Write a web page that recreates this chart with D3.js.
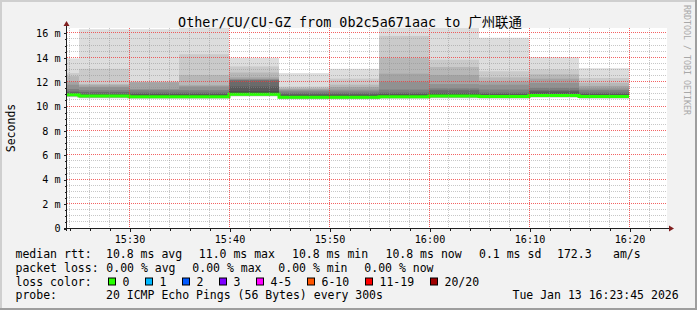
<!DOCTYPE html>
<html>
<head>
<meta charset="utf-8">
<script src="https://cdn.jsdelivr.net/npm/d3@7"></script>
<style>
html, body { margin: 0; padding: 0; background: #f2f2f2; }
svg { display: block; }
text { font-family: "DejaVu Sans Mono", "Noto Sans CJK SC", monospace; fill: #000; }
</style>
</head>
<body>
<svg width="697" height="310"></svg>
<script>
"use strict"

// end time of each 5 minute step
var times = ["15:25", "15:30", "15:35", "15:40", "15:45", "15:50",
             "15:55", "16:00", "16:05", "16:10", "16:15", "16:20"];

// 20 sorted ping rtts per step, ms
var pings = [
	[10.72,10.76,10.79,10.81,10.83,10.85,10.87,10.88,10.89,10.91, 10.95,11.0,11.1,11.2,11.4,11.75,12.0,12.45,12.7,13.9],
	[10.62,10.66,10.69,10.71,10.73,10.75,10.77,10.78,10.79,10.80, 10.85,10.9,11.0,11.15,11.3,11.55,11.7,11.8,13.05,16.3],
	[10.58,10.62,10.65,10.67,10.69,10.71,10.72,10.73,10.74,10.75, 10.8,10.9,11.0,11.1,11.3,11.4,11.95,11.98,12.0,16.3],
	[10.58,10.62,10.65,10.67,10.69,10.71,10.72,10.73,10.74,10.75, 10.8,10.9,11.0,11.1,11.3,11.6,11.7,12.55,14.25,16.6],
	[10.78,10.82,10.85,10.87,10.89,10.91,10.92,10.93,10.94,10.95, 11.02,11.2,11.6,12.1,12.15,12.2,12.35,12.75,13.25,13.95],
	[10.54,10.58,10.61,10.63,10.65,10.66,10.67,10.68,10.69,10.70, 10.75,10.85,10.95,11.05,11.2,11.3,11.4,11.5,11.6,12.7],
	[10.54,10.58,10.61,10.63,10.65,10.66,10.67,10.68,10.69,10.70, 10.75,10.85,10.95,11.05,11.2,11.35,11.55,11.75,12.25,13.05],
	[10.58,10.62,10.65,10.67,10.69,10.71,10.72,10.73,10.74,10.75, 10.8,10.9,11.0,11.1,11.35,12.0,12.65,13.95,15.75,16.6],
	[10.62,10.66,10.69,10.71,10.73,10.75,10.77,10.78,10.79,10.80, 10.85,10.95,11.05,11.3,11.45,11.8,12.55,13.2,13.8,16.6],
	[10.59,10.63,10.66,10.68,10.70,10.72,10.73,10.74,10.75,10.76, 10.8,10.9,11.0,11.1,11.35,11.75,12.0,12.35,12.85,15.6],
	[10.68,10.72,10.75,10.77,10.79,10.81,10.82,10.83,10.84,10.85, 10.9,11.0,11.2,11.3,11.5,11.9,12.25,12.6,13.0,14.0],
	[10.59,10.63,10.66,10.68,10.70,10.72,10.73,10.74,10.75,10.76, 10.8,10.9,11.0,11.1,11.3,11.45,11.65,11.9,12.3,13.1]
];

var medians = [10.93, 10.82, 10.77, 10.77, 10.97, 10.72, 10.72, 10.77, 10.82, 10.78, 10.87, 10.78];
var losses  = [0, 0, 0, 0, 0, 0, 0, 0, 0, 0, 0, 0];

var yTicks = [0, 2, 4, 6, 8, 10, 12, 14, 16];

var lossLabels = ["0", "1", "2", "3", "4-5", "6-10", "11-19", "20/20"];
var lossColors = ["#26ff00", "#00b8ff", "#0059ff", "#7e00ff", "#ff00ff", "#ff5500", "#ff0000", "#a00000"];

var rttStats  = ["10.8 ms avg", "11.0 ms max", "10.8 ms min", "10.8 ms now", "0.1 ms sd", "172.3", "am/s"];
var lossStats = ["0.00 % avg", "0.00 % max", "0.00 % min", "0.00 % now"];

var title = "Other/CU/CU-GZ from 0b2c5a671aac to 广州联通";
var probe = "20 ICMP Echo Pings (56 Bytes) every 300s";
var stamp = "Tue Jan 13 16:23:45 2026";

function hm(s) {
	var p = s.split(":");
	return new Date(2026, 0, 13, +p[0], +p[1], 0);
}

var svg = d3.select("svg");
var W = 697, H = 310;

var x = d3.scaleTime()
	.domain([new Date(2026, 0, 13, 15, 23, 45), new Date(2026, 0, 13, 16, 23, 45)])
	.range([66.5, 666.5]);
var y = d3.scaleLinear().domain([0, 16.4]).range([228, 28]);

function px(v) { return Math.floor(v) + 0.5; }

// frame
svg.append("rect").attr("width", W).attr("height", H).attr("fill", "#f2f2f2");
svg.append("path").attr("d", "M0,0H" + W + "V2H2V" + H + "H0Z").attr("fill", "#cfcfcf");
svg.append("path").attr("d", "M" + W + ",0V" + H + "H0V" + (H - 2) + "H" + (W - 2) + "V0Z").attr("fill", "#9e9e9e");

// canvas
svg.append("rect")
	.attr("x", 67).attr("y", y.range()[1])
	.attr("width", 600).attr("height", y.range()[0] - y.range()[1])
	.attr("fill", "#fff");

svg.append("clipPath").attr("id", "plot")
	.append("rect")
	.attr("x", 67).attr("y", y.range()[1])
	.attr("width", 600).attr("height", y.range()[0] - y.range()[1]);

var plot = svg.append("g").attr("clip-path", "url(#plot)");

// smoke: pair i spans ping[i-1]..ping[20-i], inner pairs darker
var cols = times.map(function(t, c) {
	var end = hm(t);
	return { start: d3.timeMinute.offset(end, -5), end: end, p: pings[c], med: medians[c], loss: losses[c] };
});
var half = 10;
var bands = [];
cols.forEach(function(d) {
	for (var i = 1; i <= half; i++) {
		var g = Math.floor(190 / half * (half - i)) + 50;
		bands.push({ d: d, lo: d.p[i - 1], hi: d.p[20 - i], color: d3.rgb(g, g, g) });
	}
});
plot.append("g").selectAll("rect")
	.data(bands)
	.enter()
	.append("rect")
	.attr("x", function(b) { return Math.round(x(b.d.start)); })
	.attr("width", function(b) { return Math.round(x(b.d.end)) - Math.round(x(b.d.start)); })
	.attr("y", function(b) { return y(b.hi); })
	.attr("height", function(b) { return y(b.lo) - y(b.hi); })
	.attr("fill", function(b) { return b.color; });

// median, coloured by loss
var steps = [];
cols.forEach(function(d) {
	steps.push([x(d.start), y(d.med)]);
	steps.push([x(d.end), y(d.med)]);
});
plot.append("path")
	.attr("d", d3.line()(steps))
	.attr("fill", "none")
	.attr("stroke", lossColors[0])
	.attr("stroke-width", 3);

// grid on top
var grid = svg.append("g").attr("shape-rendering", "crispEdges").attr("stroke-dasharray", "1,1");
var t0 = x.domain()[0], t1 = x.domain()[1];
var minorT = d3.timeMinute.every(2).range(t0, t1).filter(function(t) { return t.getMinutes() % 10 != 0; });
var majorT = d3.timeMinute.every(10).range(t0, t1);
var minorY = d3.range(0.5, 16.4, 0.5).filter(function(v) { return v % 2 != 0; });
var majorY = yTicks.filter(function(v) { return v > 0; });
var gridColor = "rgba(143,143,143,0.5)", mgridColor = "rgba(240,60,60,0.8)";

grid.selectAll(".mx").data(minorT).enter().append("line")
	.attr("x1", function(t) { return px(x(t)); }).attr("x2", function(t) { return px(x(t)); })
	.attr("y1", y.range()[1]).attr("y2", y.range()[0])
	.attr("stroke", gridColor);
grid.selectAll(".my").data(minorY).enter().append("line")
	.attr("y1", function(v) { return px(y(v)); }).attr("y2", function(v) { return px(y(v)); })
	.attr("x1", 67).attr("x2", 667)
	.attr("stroke", gridColor);
grid.selectAll(".Mx").data(majorT).enter().append("line")
	.attr("x1", function(t) { return px(x(t)); }).attr("x2", function(t) { return px(x(t)); })
	.attr("y1", y.range()[1]).attr("y2", y.range()[0])
	.attr("stroke", mgridColor);
grid.selectAll(".My").data(majorY).enter().append("line")
	.attr("y1", function(v) { return px(y(v)); }).attr("y2", function(v) { return px(y(v)); })
	.attr("x1", 67).attr("x2", 667)
	.attr("stroke", mgridColor);

// axes
var yAxis = d3.axisLeft(y)
	.tickValues(yTicks)
	.tickSize(3)
	.tickPadding(3)
	.tickFormat(function(v) { return v === 0 ? "0" : v + " m"; });
var ya = svg.append("g").attr("transform", "translate(66.5,0.5)").call(yAxis);
ya.select(".domain").remove();
ya.selectAll("line").attr("stroke", "#1f1f1f").attr("shape-rendering", "crispEdges");
ya.selectAll("text").attr("font-size", "10.15px").attr("font-family", "DejaVu Sans Mono").attr("fill", "#000");

var ym = svg.append("g").attr("transform", "translate(66.5,0.5)")
	.call(d3.axisLeft(y).tickValues(minorY).tickSize(2).tickFormat(""));
ym.select(".domain").remove();
ym.selectAll("line").attr("stroke", "#1f1f1f").attr("shape-rendering", "crispEdges");

var xAxis = d3.axisBottom(x)
	.ticks(d3.timeMinute.every(10))
	.tickSize(3)
	.tickPadding(4)
	.tickFormat(d3.timeFormat("%H:%M"));
var xa = svg.append("g").attr("transform", "translate(0.5,228.5)").call(xAxis);
xa.select(".domain").remove();
xa.selectAll("line").attr("stroke", "#1f1f1f").attr("shape-rendering", "crispEdges");
xa.selectAll("text").attr("font-size", "10.15px").attr("font-family", "DejaVu Sans Mono").attr("fill", "#000");

var xm = svg.append("g").attr("transform", "translate(0.5,228.5)")
	.call(d3.axisBottom(x).tickValues(minorT).tickSize(2).tickFormat(""));
xm.select(".domain").remove();
xm.selectAll("line").attr("stroke", "#1f1f1f").attr("shape-rendering", "crispEdges");

svg.append("line").attr("x1", 66.5).attr("x2", 66.5).attr("y1", 25).attr("y2", 231)
	.attr("stroke", "#1f1f1f").attr("shape-rendering", "crispEdges");
svg.append("line").attr("x1", 64).attr("x2", 670).attr("y1", 228.5).attr("y2", 228.5)
	.attr("stroke", "#1f1f1f").attr("shape-rendering", "crispEdges");
svg.append("path").attr("d", "M66.5,21L63.5,26L69.5,26Z").attr("fill", "#801f1f");
svg.append("path").attr("d", "M674,228.5L669,225.5L669,231.5Z").attr("fill", "#801f1f");

// titles
svg.append("text").attr("x", 350).attr("y", 26.5)
	.attr("text-anchor", "middle").attr("font-size", "13.4px").text(title);
svg.append("text").attr("transform", "translate(15,128) rotate(-90)")
	.attr("text-anchor", "middle").attr("font-size", "11.5px").text("Seconds");
svg.append("text").attr("transform", "translate(684,5) rotate(90)")
	.attr("font-size", "8.3px").style("fill", "#a8a8a8").text("RRDTOOL / TOBI OETIKER");

// legend
var leg = svg.append("g").attr("font-size", "11.5px");
var rows = [257.7, 271.6, 285.5, 299.4];
leg.append("text").attr("x", 15.5).attr("y", rows[0]).text("median rtt:");
leg.selectAll(".rtt").data(rttStats).enter().append("text")
	.attr("x", function(d, i) { return [106, 198.8, 292, 385.5, 479, 557, 613][i]; })
	.attr("y", rows[0]).text(function(d) { return d; });
leg.append("text").attr("x", 15.5).attr("y", rows[1]).text("packet loss:");
leg.selectAll(".pl").data(lossStats).enter().append("text")
	.attr("x", function(d, i) { return [106.3, 192.3, 278.3, 364.3][i]; })
	.attr("y", rows[1]).text(function(d) { return d; });
leg.append("text").attr("x", 15.5).attr("y", rows[2]).text("loss color:");
var bx = 108.5, boxes = [];
lossLabels.forEach(function(l, i) {
	boxes.push({ x: bx, label: l, color: lossColors[i] });
	bx += 30 + 7 * l.length;
});
var item = leg.selectAll(".lc").data(boxes).enter().append("g");
item.append("rect")
	.attr("x", function(d) { return d.x; }).attr("y", rows[2] - 7.5)
	.attr("width", 7).attr("height", 7)
	.attr("fill", function(d) { return d.color; })
	.attr("stroke", "#000").attr("stroke-width", 1);
item.append("text")
	.attr("x", function(d) { return d.x + 14; }).attr("y", rows[2])
	.text(function(d) { return d.label; });
leg.append("text").attr("x", 15.5).attr("y", rows[3]).text("probe:");
leg.append("text").attr("x", 106).attr("y", rows[3]).text(probe);
leg.append("text").attr("x", 512.5).attr("y", rows[3]).text(stamp);
</script>
</body>
</html>
